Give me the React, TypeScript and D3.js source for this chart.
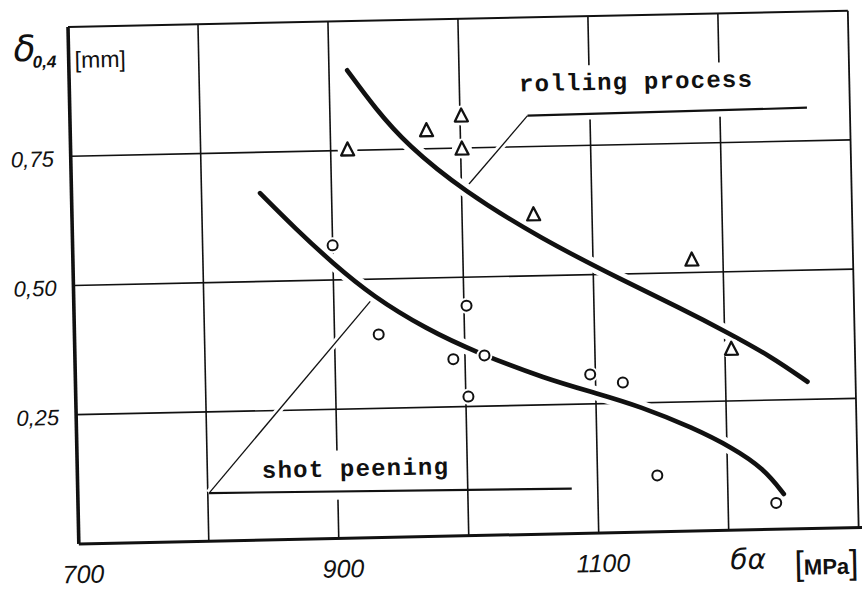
import React from 'react';
import * as d3 from 'd3';

// axis ticks
const xGrid = [800, 900, 1000, 1100, 1200];
const yGrid = [0.25, 0.5, 0.75];
const xTickLabels = ['700', '900', '1100'];
const xTickValues = [700, 900, 1100];
const yTickLabels = ['0,25', '0,50', '0,75'];

// measured points: rolling process (triangles)
const rollingX = [913, 974, 1001, 1001, 1055, 1176, 1205];
const rollingY = [0.752, 0.786, 0.813, 0.749, 0.619, 0.525, 0.351];

// measured points: shot peening (circles)
const shotX = [900, 934, 991, 1002, 1002, 1015, 1096, 1121, 1146, 1237];
const shotY = [0.567, 0.393, 0.342, 0.445, 0.269, 0.348, 0.307, 0.29, 0.109, 0.051];

// hand-drawn trend curves
const rollingCurveX = [914, 935, 959, 1001, 1060, 1123, 1166, 1202, 1235, 1263];
const rollingCurveY = [0.905, 0.83, 0.758, 0.668, 0.572, 0.487, 0.432, 0.383, 0.335, 0.284];
const shotCurveX = [845, 872, 900, 930, 971, 1009, 1062, 1101, 1134, 1174, 1204, 1228, 1243];
const shotCurveY = [0.671, 0.6, 0.532, 0.467, 0.401, 0.354, 0.3, 0.27, 0.243, 0.2, 0.16, 0.118, 0.068];

// label leader lines
const rollingLeaderX = [1003, 1052, 1267];
const rollingLeaderY = [0.672, 0.81, 0.814];
const shotLeaderX = [930, 801, 1080];
const shotLeaderY = [0.463, 0.093, 0.087];

export default function App() {
  const W = 862, H = 591;
  const pw = 780, ph = 517;
  const x = d3.scaleLinear().domain([700, 1300]).range([0, pw]);
  const y = d3.scaleLinear().domain([0, 1]).range([ph, 0]);

  const curve = d3.line<[number, number]>()
    .x(d => x(d[0])).y(d => y(d[1]))
    .curve(d3.curveBasis);
  const straight = d3.line<[number, number]>().x(d => x(d[0])).y(d => y(d[1]));

  const zip = (a: number[], b: number[]) => a.map((v, i) => [v, b[i]] as [number, number]);
  const rollCurve = curve(zip(rollingCurveX, rollingCurveY)) || '';
  const shotCurve = curve(zip(shotCurveX, shotCurveY)) || '';
  const rollLead = zip(rollingLeaderX, rollingLeaderY);
  const shotLead = zip(shotLeaderX, shotLeaderY);

  const ink = '#111';
  const tri = 'M0,-7 L6.5,6 L-6.5,6 Z';

  return (
    <svg width={W} height={H} style={{ position: 'absolute', left: 0, top: 0 }}>
      <rect width={W} height={H} fill="#fff" />
      <g transform="translate(68,27) rotate(-1.2)">
        {/* grid */}
        {xGrid.map(v => (
          <line key={'gx' + v} x1={x(v)} x2={x(v)} y1={0} y2={ph} stroke={ink} strokeWidth={1.6} />
        ))}
        {yGrid.map(v => (
          <line key={'gy' + v} x1={0} x2={pw} y1={y(v)} y2={y(v)} stroke={ink} strokeWidth={1.6} />
        ))}
        {/* frame */}
        <line x1={0} x2={pw} y1={0} y2={0} stroke={ink} strokeWidth={2} />
        <line x1={pw} x2={pw} y1={0} y2={ph} stroke={ink} strokeWidth={1.8} />
        <line x1={0} x2={pw + 4} y1={ph} y2={ph} stroke={ink} strokeWidth={3} />
        <line x1={0} x2={0} y1={0} y2={ph} stroke={ink} strokeWidth={3.6} />

        {/* label masks */}
        <rect x={x(1045)} y={y(0.905)} width={x(1267) - x(1045)} height={y(0.8) - y(0.905)} fill="#fff" />
        <rect x={x(803)} y={y(0.17)} width={x(985) - x(803)} height={y(0.075) - y(0.17)} fill="#fff" />

        {/* leader lines */}
        <path d={straight(rollLead.slice(0, 2)) || ''} stroke="#fff" strokeWidth={7} fill="none" />
        <path d={straight(shotLead.slice(0, 2)) || ''} stroke="#fff" strokeWidth={7} fill="none" />
        <path d={straight(rollLead.slice(0, 2)) || ''} stroke={ink} strokeWidth={1.3} fill="none" />
        <path d={straight(rollLead.slice(1)) || ''} stroke={ink} strokeWidth={2.2} fill="none" />
        <path d={straight(shotLead.slice(0, 2)) || ''} stroke={ink} strokeWidth={1.3} fill="none" />
        <path d={straight(shotLead.slice(1)) || ''} stroke={ink} strokeWidth={2.2} fill="none" />

        {/* curves */}
        <path d={rollCurve} stroke="#fff" strokeWidth={14} fill="none" />
        <path d={shotCurve} stroke="#fff" strokeWidth={14} fill="none" />
        <path d={rollCurve} stroke={ink} strokeWidth={4.6} fill="none" strokeLinecap="round" />
        <path d={shotCurve} stroke={ink} strokeWidth={4.6} fill="none" strokeLinecap="round" />

        {/* markers */}
        {rollingX.map((v, i) => (
          <circle key={'rh' + i} cx={x(v)} cy={y(rollingY[i])} r={10} fill="#fff" />
        ))}
        {shotX.map((v, i) => (
          <circle key={'sh' + i} cx={x(v)} cy={y(shotY[i])} r={8} fill="#fff" />
        ))}
        {rollingX.map((v, i) => (
          <path key={'r' + i} d={tri} transform={`translate(${x(v)},${y(rollingY[i])})`}
            fill="#fff" stroke={ink} strokeWidth={2.3} strokeLinejoin="round" />
        ))}
        {shotX.map((v, i) => (
          <circle key={'s' + i} cx={x(v)} cy={y(shotY[i])} r={5} fill="#fff" stroke={ink} strokeWidth={2} />
        ))}

        {/* series labels */}
        <text x={x(1046)} y={y(0.857)} fontFamily="'Liberation Mono', monospace" fontWeight={700}
          fontSize={24} letterSpacing={1.2} fill={ink}>rolling process</text>
        <text x={x(842)} y={y(0.12)} fontFamily="'Liberation Mono', monospace" fontWeight={700}
          fontSize={24} letterSpacing={1.2} fill={ink}>shot peening</text>

        {/* tick labels */}
        {xTickValues.map((v, i) => (
          <text key={'xl' + v} x={x(v) + 4} y={ph + 39} textAnchor="middle"
            fontFamily="'Liberation Sans', Arial, sans-serif" fontStyle="italic" fontSize={25} fill={ink}>
            {xTickLabels[i]}
          </text>
        ))}
        {yGrid.map((v, i) => (
          <text key={'yl' + v} x={-17} y={y(v) + 10} textAnchor="end"
            fontFamily="'Liberation Sans', Arial, sans-serif" fontStyle="italic" fontSize={22} fill={ink}>
            {yTickLabels[i]}
          </text>
        ))}

        {/* axis titles */}
        <text x={-55} y={33} fontFamily="'DejaVu Sans', sans-serif" fontStyle="italic" fontSize={36} fill={ink}>δ</text>
        <text x={-36} y={40} fontFamily="'Liberation Sans', sans-serif" fontStyle="italic" fontWeight={700}
          fontSize={17} fill={ink}>0,4</text>
        <text x={6} y={41} fontFamily="'Liberation Sans', sans-serif" fontSize={23} fill={ink}>[mm]</text>
        <text x={651} y={ph + 39} fontFamily="'DejaVu Sans', sans-serif" fontStyle="italic" fontSize={28} fill={ink}>бα</text>
        <text x={715} y={ph + 46} fontFamily="'Liberation Sans', sans-serif" fill={ink}>
          <tspan fontSize={34}>[</tspan>
          <tspan fontSize={22} fontWeight={700}>MPa</tspan>
          <tspan fontSize={34}>]</tspan>
        </text>
      </g>
    </svg>
  );
}
